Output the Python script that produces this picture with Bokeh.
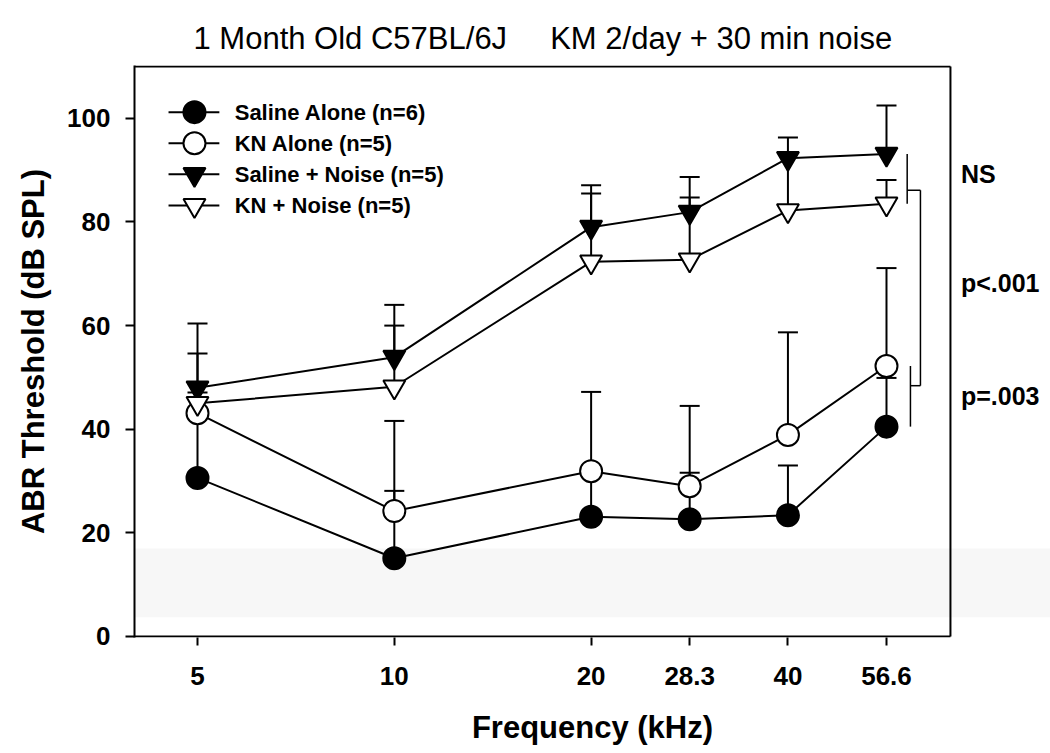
from bokeh.plotting import figure
from bokeh.models import Range1d, FixedTicker, BoxAnnotation, ColumnDataSource
from bokeh.core.properties import value
from bokeh.embed import file_html
from bokeh.resources import INLINE

# ---------------- data ----------------
freqs = [5, 10, 20, 28.3, 40, 56.6]
tick_labels = ["5", "10", "20", "28.3", "40", "56.6"]

series_names = ["Saline Alone (n=6)", "KN Alone (n=5)",
                "Saline + Noise (n=5)", "KN + Noise (n=5)"]

saline_alone_mean = [30.6, 15.1, 23.1, 22.6, 23.4, 40.5]
saline_alone_sd = [12.5, 13.0, 9.0, 9.0, 9.6, 9.4]

kn_alone_mean = [43.1, 24.2, 31.9, 29.0, 38.9, 52.2]
kn_alone_sd = [4.0, 17.4, 15.3, 15.5, 19.8, 18.9]

saline_noise_mean = [48.0, 53.9, 79.0, 81.9, 92.3, 93.1]
saline_noise_sd = [12.4, 10.1, 8.1, 6.8, 4.0, 9.4]

kn_noise_mean = [45.0, 48.2, 72.3, 72.7, 82.2, 83.5]
kn_noise_sd = [9.6, 11.8, 13.2, 12.0, 11.0, 4.6]

sig_labels = ["NS", "p<.001", "p=.003"]

title_text = "1 Month Old C57BL/6J\u00a0\u00a0\u00a0\u00a0\u00a0KM 2/day + 30 min noise"

# ---------------- figure ----------------
FONT = "Liberation Sans"
X_LO, X_FRAME_HI, X_HI = 4.005, 70.9, 100.85
Y_LO, Y_HI = -0.2, 110.2
Y_TOP = 110

p = figure(width=1050, height=753, x_axis_type="log",
           x_range=Range1d(X_LO, X_HI), y_range=Range1d(Y_LO, Y_HI),
           output_backend="svg", toolbar_location=None,
           min_border_left=134, min_border_right=0,
           min_border_top=65, min_border_bottom=116,
           background_fill_color="white", border_fill_color="white")

p.title.text = title_text
p.title.align = "left"
p.title.offset = 59
p.title.text_font = FONT
p.title.text_font_size = "31px"
p.title.text_font_style = "normal"
p.title.text_color = "black"
p.title.standoff = 19

p.grid.visible = False
p.outline_line_color = None

# faint scan band
p.add_layout(BoxAnnotation(bottom=3.7, top=17.0, fill_color="#f7f7f7",
                           fill_alpha=1.0, line_color=None, level="underlay"))

# axes
xa = p.xaxis[0]
xa.ticker = FixedTicker(ticks=freqs, minor_ticks=[])
xa.major_label_overrides = {f: t for f, t in zip(freqs, tick_labels)}
xa.axis_label = "Frequency (kHz)"

ya = p.yaxis[0]
ya.ticker = FixedTicker(ticks=[0, 20, 40, 60, 80, 100], minor_ticks=[])
ya.axis_label = "ABR Threshold (dB SPL)"

for ax in (xa, ya):
    ax.axis_line_width = 2
    ax.axis_line_color = "black"
    ax.major_tick_line_width = 2
    ax.major_tick_line_color = "black"
    ax.major_tick_in = 0
    ax.minor_tick_line_color = None
    ax.major_label_text_font = FONT
    ax.major_label_text_font_style = "bold"
    ax.major_label_text_font_size = "26px"
    ax.major_label_text_color = "black"
    ax.axis_label_text_font = FONT
    ax.axis_label_text_font_style = "bold"
    ax.axis_label_text_font_size = "31px"
    ax.axis_label_text_color = "black"

xa.axis_line_color = None
xa.major_tick_out = 8
xa.major_label_standoff = 21
xa.axis_label_standoff = 22
ya.major_tick_out = 9
ya.major_label_standoff = 15
ya.axis_label_standoff = 13

# frame box (bottom, top, right) drawn as glyphs
frame = dict(line_color="black", line_width=2)
p.segment(x0=[X_LO], y0=[0], x1=[X_FRAME_HI], y1=[0], **frame)
p.segment(x0=[X_LO], y0=[Y_TOP], x1=[X_FRAME_HI], y1=[Y_TOP], **frame)
p.segment(x0=[X_FRAME_HI], y0=[0], x1=[X_FRAME_HI], y1=[Y_TOP], **frame)

# ---------------- series ----------------
specs = [
    (saline_alone_mean, saline_alone_sd, "circle", "black"),
    (kn_alone_mean, kn_alone_sd, "circle", "white"),
    (saline_noise_mean, saline_noise_sd, "inverted_triangle", "black"),
    (kn_noise_mean, kn_noise_sd, "inverted_triangle", "white"),
]

sources = []
for mean, sd, marker, fill in specs:
    src = ColumnDataSource(dict(x=freqs, y=mean,
                                top=[m + s for m, s in zip(mean, sd)]))
    sources.append(src)
    p.line("x", "y", source=src, line_color="black", line_width=2)

# error bars (upper only)
for src in sources:
    p.segment(x0="x", y0="y", x1="x", y1="top", source=src,
              line_color="black", line_width=2)
    p.scatter(x="x", y="top", source=src, marker="dash", size=20,
              line_color="black", line_width=2)

# markers on top
for src, (mean, sd, marker, fill) in zip(sources, specs):
    p.scatter(x="x", y="y", source=src, marker=marker, size=22,
              fill_color=fill, line_color="black", line_width=2)

# ---------------- significance brackets ----------------
last = len(freqs) - 1
f_last = freqs[last]
up_hi, up_lo = saline_noise_mean[last], kn_noise_mean[last]
lo_hi, lo_lo = kn_alone_mean[last], saline_alone_mean[last]
x_up = f_last * 1.0756
x_lo = f_last * 1.088
x_conn = f_last * 1.127
y_conn_up = 86.1
y_conn_lo = 48.4
br = dict(line_color="black", line_width=1.5)
p.segment(x0=[x_up], y0=[up_hi], x1=[x_up], y1=[up_lo], **br)
p.segment(x0=[x_up], y0=[y_conn_up], x1=[x_conn], y1=[y_conn_up], **br)
p.segment(x0=[x_conn], y0=[y_conn_up], x1=[x_conn], y1=[y_conn_lo], **br)
p.segment(x0=[x_lo], y0=[y_conn_lo], x1=[x_conn], y1=[y_conn_lo], **br)
p.segment(x0=[x_lo], y0=[lo_hi], x1=[x_lo], y1=[lo_lo], **br)

x_lab = f_last * 1.30
lab_y = [(up_hi + up_lo) / 2 + 1.0, (y_conn_up + y_conn_lo) / 2 + 1.0,
         (lo_hi + lo_lo) / 2]
p.text(x=[x_lab] * 3, y=lab_y, text=sig_labels, text_font=value(FONT),
       text_font_style="bold", text_font_size="25px",
       text_baseline="middle", text_align="left", text_color="black")

# ---------------- legend (drawn in the frame) ----------------
leg_top, leg_step = 101.2, 6.0
leg_rows = [leg_top - i * leg_step for i in range(len(series_names))]
leg_x0, leg_xm, leg_x1, leg_xt = 4.515, 4.947, 5.40, 5.70
for (mean, sd, marker, fill), yv in zip(specs, leg_rows):
    p.line(x=[leg_x0, leg_x1], y=[yv, yv], line_color="black", line_width=2)
    p.scatter(x=[leg_xm], y=[yv], marker=marker, size=22, fill_color=fill,
              line_color="black", line_width=2)
p.text(x=[leg_xt] * len(series_names), y=leg_rows, text=series_names,
       text_font=value(FONT), text_font_style="bold", text_font_size="22px",
       text_baseline="middle", text_align="left", text_color="black")

open("out.html", "w").write(file_html(p, INLINE))
